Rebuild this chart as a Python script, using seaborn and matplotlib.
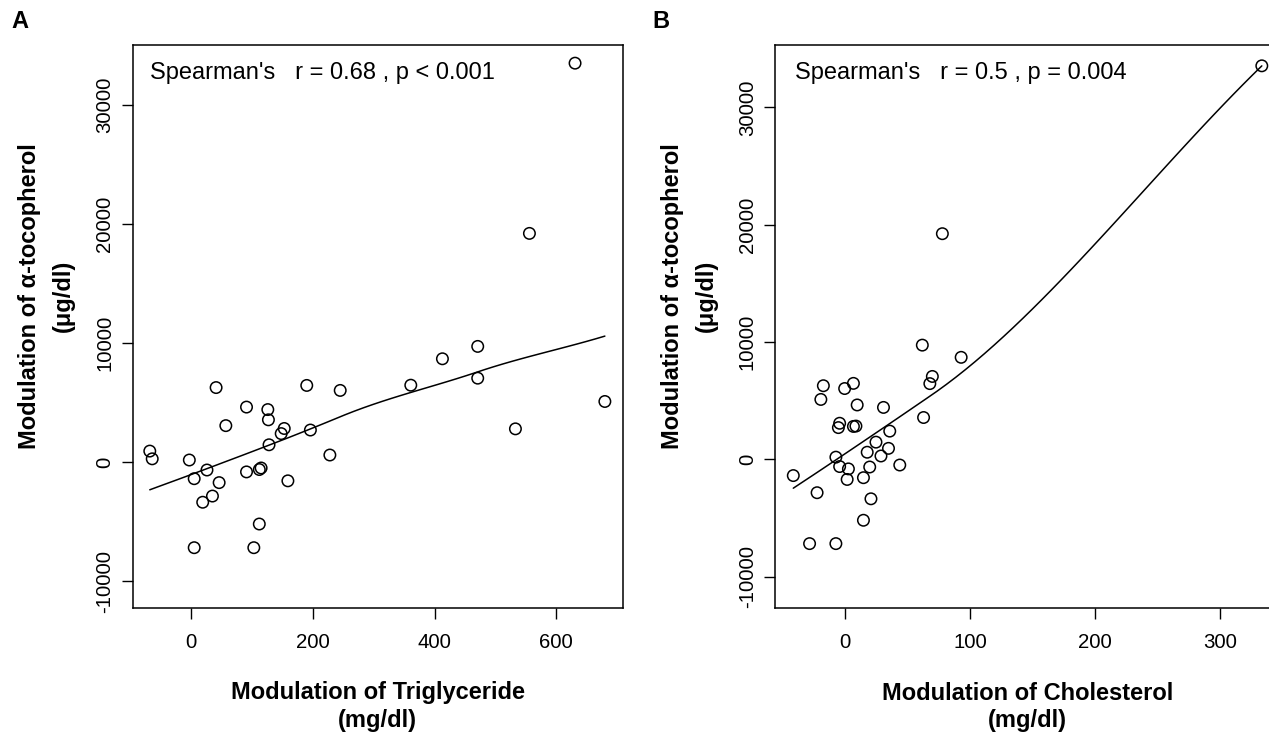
import numpy as np
import pandas as pd
import matplotlib
matplotlib.use("Agg")
import matplotlib.pyplot as plt
import seaborn as sns

# Modulation of alpha-tocopherol (ug/dl), one value per subject
tocopherol = [33540, 19230, 9730, 8690, 7060, 6470, 6450, 6270, 6030, 5100,
              4630, 4420, 3560, 3070, 2830, 2800, 2700, 2400, 1460, 930,
              600, 280, 180, -490, -620, -660, -820, -1390, -1570, -1720,
              -2850, -3370, -5200, -7190, -7190]
# Modulation of triglyceride (mg/dl), same subjects
triglyceride = [631, 556, 471, 413, 471, 361, 190, 41, 245, 680,
                91, 126, 127, 57, 153, 533, 196, 148, 128, -68,
                228, -64, -3, 115, 112, 26, 91, 5, 159, 46,
                35, 19, 112, 5, 103]
# Modulation of cholesterol (mg/dl), same subjects
cholesterol = [333, 78, 62, 93, 70, 7, 68, -17, 0, -19,
               10, 31, 63, -4, 9, 7, -5, 36, 25, 35,
               18, 29, -7, 44, -4, 20, 3, -41, 15, 2,
               -22, 21, 15, -28, -7]

x_ticks_a = [0, 200, 400, 600]
x_ticks_b = [0, 100, 200, 300]
y_ticks = [-10000, 0, 10000, 20000, 30000]
y_tick_labels = ["-10000", "0", "10000", "20000", "30000"]
stat_a = "Spearman's   r = 0.68 , p < 0.001"
stat_b = "Spearman's   r = 0.5 , p = 0.004"


def loess_smooth(x, y, span=1.0, iterations=4, cell=0.2, evaluation=50):
    """Robust local-linear loess: fits at kd-tree vertices, cubic Hermite
    interpolation in between (single predictor)."""
    x = np.asarray(x, float)
    y = np.asarray(y, float)
    n = len(x)
    nf = min(n, int(np.floor(n * span + 1e-5)))
    fc = int(np.floor(n * span * cell))
    xs = np.sort(x)
    lo, hi = xs[0], xs[-1]
    mu = 0.005 * max(hi - lo, 1e-10 * max(abs(lo), abs(hi)) + 1e-30)
    lo, hi = lo - mu, hi + mu

    leaves = []
    verts = {lo, hi}

    def build(l, u, vlo, vhi):
        if u - l + 1 <= fc:
            leaves.append((vlo, vhi))
            return
        m = (l + u + 2) // 2 - 1
        off = 0
        while not (m + off >= u or m + off < l):
            if xs[m + off] == xs[m + off + 1]:
                off = -off
                if off >= 0:
                    off += 1
            else:
                m = m + off
                break
        t = xs[m]
        if t == vlo or t == vhi:
            leaves.append((vlo, vhi))
            return
        verts.add(t)
        build(l, m, vlo, t)
        build(m + 1, u, t, vhi)

    build(0, n - 1, lo, hi)
    leaves.sort()
    vlist = sorted(verts)

    def local_fit(q, rw):
        d2 = (x - q) ** 2
        rho = np.sort(d2)[nf - 1] * max(1.0, span)
        r = np.sqrt(d2 / rho)
        w = np.where(r < 1, (1 - r ** 3) ** 3, 0.0) * rw
        X = np.column_stack([np.ones(n), x - q])
        sw = np.sqrt(w)
        coef, *_ = np.linalg.lstsq(X * sw[:, None], y * sw, rcond=None)
        return coef[0], coef[1]

    def interp(z, vals):
        out = np.empty(len(z))
        for k, zz in enumerate(z):
            for (a, b) in leaves:
                if a <= zz <= b:
                    break
            g0, d0 = vals[a]
            g1, d1 = vals[b]
            h = b - a
            u = (zz - a) / h
            phi0 = (1 - u) ** 2 * (1 + 2 * u)
            phi1 = u ** 2 * (3 - 2 * u)
            psi0 = u * (1 - u) ** 2
            psi1 = -u ** 2 * (1 - u)
            out[k] = phi0 * g0 + phi1 * g1 + (psi0 * d0 + psi1 * d1) * h
        return out

    rw = np.ones(n)
    for j in range(iterations):
        vals = {v: local_fit(v, rw) for v in vlist}
        if j < iterations - 1:
            res = np.abs(y - interp(x, vals))
            cmad = 6 * np.median(res)
            if cmad <= 0:
                rw = np.ones(n)
            else:
                rw = np.where(res > 0.999 * cmad, 0.0,
                              np.where(res > 0.001 * cmad,
                                       (1 - (res / cmad) ** 2) ** 2, 1.0))
    grid = np.linspace(x.min(), x.max(), evaluation)
    return grid, interp(grid, vals)


sns.set_theme(style="ticks")
plt.rcParams["font.family"] = ["Liberation Sans", "DejaVu Sans"]
plt.rcParams["axes.unicode_minus"] = False

W, H = 1269, 732
fig = plt.figure(figsize=(W / 100, H / 100), dpi=100)
fig.patch.set_facecolor("white")


def frac(px, py):
    return px / W, 1 - py / H


def axes_box(left, right, top, bottom):
    return [left / W, 1 - bottom / H, (right - left) / W, (bottom - top) / H]


df = pd.DataFrame({"tg": triglyceride, "chol": cholesterol, "toc": tocopherol})

panels = [
    dict(box=axes_box(132.5, 623, 45, 607.5), xcol="tg", xlim=(-96.4, 709.8),
         ylim=(-12218, 35067), xticks=x_ticks_a, stat=stat_a, letter="A",
         letter_x=20, stat_x=150, ylab_x=(30, 63),
         xlab="Modulation of Triglyceride"),
    dict(box=axes_box(775, 1280.6, 45, 607.5), xcol="chol", xlim=(-55.6, 348),
         ylim=(-12636, 35315), xticks=x_ticks_b, stat=stat_b, letter="B",
         letter_x=661, stat_x=795, ylab_x=(673, 706),
         xlab="Modulation of Cholesterol"),
]

for p in panels:
    ax = fig.add_axes(p["box"])
    ax.set_facecolor("white")
    sns.scatterplot(data=df, x=p["xcol"], y="toc", ax=ax, marker="o", s=68,
                    facecolor="none", edgecolor="black", linewidth=1.1,
                    clip_on=False, zorder=3)
    gx, gy = loess_smooth(df[p["xcol"]], df["toc"])
    sns.lineplot(x=gx, y=gy, ax=ax, color="black", linewidth=1.1,
                 estimator=None, sort=False, zorder=2)
    ax.set_xlim(*p["xlim"])
    ax.set_ylim(*p["ylim"])
    ax.set_xticks(p["xticks"])
    ax.set_xticklabels([str(t) for t in p["xticks"]], fontsize=14.7)
    ax.set_yticks(y_ticks)
    ax.set_yticklabels(y_tick_labels, fontsize=14.7, rotation=90, va="center")
    ax.tick_params(axis="both", direction="out", length=8, width=1.0,
                   color="black", labelcolor="black")
    ax.tick_params(axis="x", pad=10)
    ax.tick_params(axis="y", pad=5)
    for s in ax.spines.values():
        s.set_visible(True)
        s.set_color("black")
        s.set_linewidth(1.1)
    ax.set_xlabel("")
    ax.set_ylabel("")

    # statistics annotation inside the plot region
    tx, ty = frac(p["stat_x"], 73)
    fig.text(tx, ty, p["stat"], fontsize=17, ha="left", va="center", color="black")

    # panel letter
    lx_, ly_ = frac(p["letter_x"], 21)
    fig.text(lx_, ly_, p["letter"], fontsize=17, fontweight="bold",
             ha="center", va="center", color="black")

    # y-axis title on two lines
    cx = (p["box"][0] + p["box"][2] / 2) * W
    yx1, yy = frac(p["ylab_x"][0], 296)
    fig.text(yx1, yy, "Modulation of α-tocopherol", fontsize=17, fontweight="bold",
             rotation=90, ha="center", va="center", color="black")
    yx2, _ = frac(p["ylab_x"][1], 296)
    fig.text(yx2, yy, "(μg/dl)", fontsize=17, fontweight="bold",
             rotation=90, ha="center", va="center", color="black")

    # x-axis title on two lines
    fx, fy1 = frac(cx, 693)
    fig.text(fx, fy1, p["xlab"], fontsize=17, fontweight="bold",
             ha="center", va="center", color="black")
    _, fy2 = frac(cx, 720)
    fig.text(fx, fy2, "(mg/dl)", fontsize=17, fontweight="bold",
             ha="center", va="center", color="black")

fig.savefig("out.png", dpi=100, facecolor="white")
